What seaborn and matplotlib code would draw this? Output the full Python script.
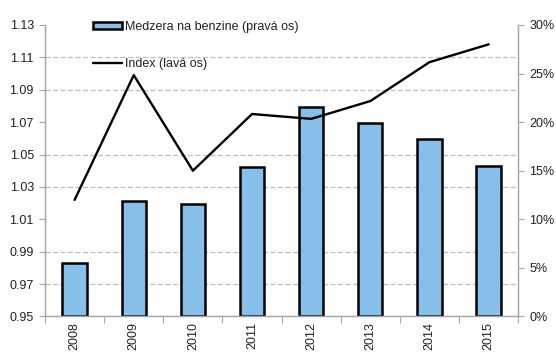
import numpy as np
import pandas as pd
import matplotlib
matplotlib.use("Agg")
import matplotlib.pyplot as plt
from matplotlib.ticker import FixedLocator, FuncFormatter
from matplotlib.patches import Patch
from matplotlib.lines import Line2D
import seaborn as sns

years = ["2008", "2009", "2010", "2011", "2012", "2013", "2014", "2015"]
gap_pct = [5.55, 11.9, 11.55, 15.4, 21.6, 19.9, 18.3, 15.5]          # right axis, %
index_vals = [1.022, 1.099, 1.040, 1.075, 1.072, 1.083, 1.107, 1.118]  # left axis
index_ticks = [0.95, 0.97, 0.99, 1.01, 1.03, 1.05, 1.07, 1.09, 1.11, 1.13]
pct_ticks = [0, 5, 10, 15, 20, 25, 30]

bar_label = "Medzera na benzine (pravá os)"
line_label = "Index (lavá os)"

sns.set_theme(style="white")
plt.rcParams["font.family"] = ["Liberation Sans Narrow", "Liberation Sans", "DejaVu Sans"]
plt.rcParams["font.size"] = 9

BAR_COLOR = "#86BFEA"
AXIS_GRAY = "#A6A6A6"
GRID_GRAY = "#BFBFBF"
TEXT = "#222222"

df = pd.DataFrame({"year": years, "gap": gap_pct, "index": index_vals,
                   "pos": np.arange(len(years))})

fig = plt.figure(figsize=(5.56, 3.56), dpi=100)
ax = fig.add_axes([0.081, 0.111, 0.851, 0.819])   # bars, percent scale (right side)
ax2 = ax.twinx()                                    # index line (left side)

# bars
sns.barplot(data=df, x="year", y="gap", ax=ax, color=BAR_COLOR, width=0.41,
            edgecolor="black", linewidth=1.8, saturation=1)
ax.set_ylim(0, 30)
ax.set_xlim(-0.5, len(years) - 0.5)

# line
sns.lineplot(data=df, x="pos", y="index", ax=ax2, color="black", linewidth=1.7)
ax2.set_ylim(index_ticks[0], index_ticks[-1])
ax2.set_xlim(-0.5, len(years) - 0.5)

# percent axis on the right
ax.yaxis.tick_right()
ax.yaxis.set_label_position("right")
ax.set_yticks(pct_ticks)
ax.yaxis.set_major_formatter(FuncFormatter(lambda v, _: f"{v:.0f}%"))

# dashed grid behind the bars, aligned with the index ticks
lo, hi = index_ticks[0], index_ticks[-1]
grid_pos = [(t - lo) / (hi - lo) * 30 for t in index_ticks]
ax.yaxis.set_minor_locator(FixedLocator(grid_pos))
ax.grid(which="minor", axis="y", color=GRID_GRAY, linestyle=(0, (4, 2)), linewidth=0.9)
ax.grid(which="major", axis="y", visible=False)
ax.grid(axis="x", visible=False)
ax.set_axisbelow(True)

# index axis on the left
ax2.yaxis.tick_left()
ax2.yaxis.set_label_position("left")
ax2.set_yticks(index_ticks)
ax2.yaxis.set_major_formatter(FuncFormatter(lambda v, _: f"{v:.2f}"))
ax2.grid(False)

# category ticks: labels at centers, marks at boundaries
ax.set_xticks(np.arange(len(years)))
ax.set_xticklabels(years, rotation=90)
ax.xaxis.set_minor_locator(FixedLocator(np.arange(len(years) + 1) - 0.5))
ax.tick_params(axis="x", which="major", length=0, pad=4, labelcolor=TEXT, labelsize=9)
ax.tick_params(axis="x", which="minor", length=5, width=0.8, color=AXIS_GRAY, bottom=True)
ax.tick_params(axis="y", which="major", length=4, width=0.8, color=AXIS_GRAY,
               labelcolor=TEXT, labelsize=9, right=True, left=False, pad=4)
ax.tick_params(axis="y", which="minor", length=0, right=False, left=False)
ax2.tick_params(axis="y", which="major", length=4, width=0.8, color=AXIS_GRAY,
                labelcolor=TEXT, labelsize=9, left=True, right=False, pad=4)
ax2.tick_params(axis="x", which="both", length=0, labelbottom=False)

ax.set_xlabel("")
ax.set_ylabel("")
ax2.set_xlabel("")
ax2.set_ylabel("")

for a in (ax, ax2):
    a.spines["top"].set_visible(False)
    for s in ("left", "right", "bottom"):
        a.spines[s].set_color(AXIS_GRAY)
        a.spines[s].set_linewidth(0.9)

handles = [Patch(facecolor=BAR_COLOR, edgecolor="black", linewidth=1.8),
           Line2D([0], [0], color="black", linewidth=1.7)]
leg = ax2.legend(handles, [bar_label, line_label], loc="upper left",
                 bbox_to_anchor=(0.101, 1.014), frameon=False, borderpad=0,
                 borderaxespad=0, handlelength=2.3, handleheight=0.55,
                 handletextpad=0.3, labelspacing=2.0, fontsize=9)
for t in leg.get_texts():
    t.set_color(TEXT)

fig.savefig("out.png", dpi=100)
